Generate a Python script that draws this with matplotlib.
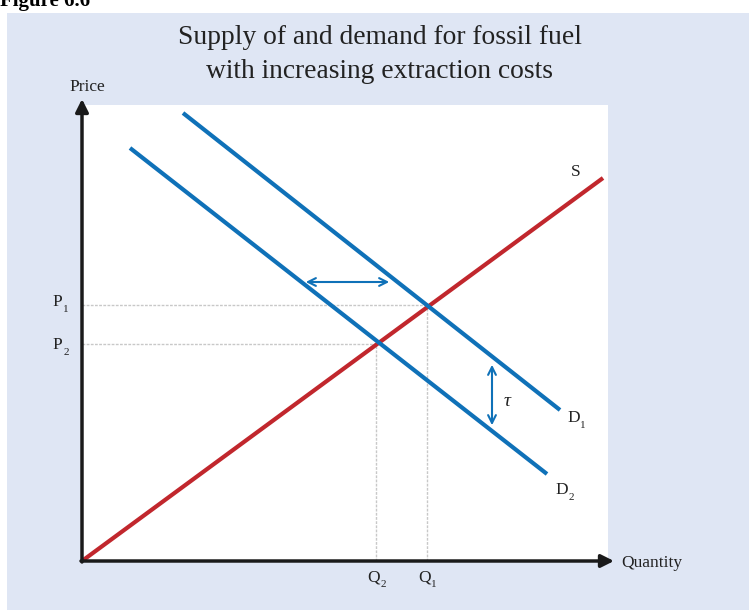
import matplotlib
matplotlib.use("Agg")
import matplotlib.pyplot as plt
from matplotlib.patches import Rectangle

plt.rcParams['font.family'] = ['Liberation Serif', 'DejaVu Serif']
plt.rcParams['mathtext.fontset'] = 'custom'
plt.rcParams['mathtext.rm'] = 'Liberation Serif'
plt.rcParams['mathtext.it'] = 'Liberation Serif:italic'

# line end points (quantity, price) in chart units
supply_x = [0, 521]
supply_y = [0, 383]
d1_x = [101, 478]
d1_y = [448, 151]
d2_x = [48, 465]
d2_y = [413, 87]

# equilibria
q1, p1 = 345, 256
q2, p2 = 294, 217

# shift arrows
shift_x = [221, 310]
shift_y = 279
tax_x = 410
tax_y = [199, 133]

BLUE = '#0f71b8'
RED = '#c1272d'
PANEL = '#dfe6f4'
INK = '#222222'

fig = plt.figure(figsize=(7.49, 6.10), dpi=100)
fig.patches.append(Rectangle((7 / 749, 0), 1, 1 - 13 / 610, transform=fig.transFigure,
                             facecolor=PANEL, edgecolor='none', zorder=-1))
fig.text(0.0, 1 - 6 / 610, 'Figure 6.6', fontsize=15, fontweight='bold', va='baseline')

ax = fig.add_axes([82 / 749, 49 / 610, 526 / 749, 456 / 610])
ax.set_zorder(1)
ax.set_facecolor('white')
ax.set_xlim(0, 526)
ax.set_ylim(0, 456)
for s in ax.spines.values():
    s.set_visible(False)
ax.set_xticks([])
ax.set_yticks([])

# guide lines
guide = dict(color='#c8c8c8', lw=1, ls=(0, (2, 1)))
ax.plot([0, q1], [p1, p1], **guide)
ax.plot([0, q2], [p2, p2], **guide)
ax.plot([q1, q1], [0, p1], **guide)
ax.plot([q2, q2], [0, p2], **guide)

ax.plot(supply_x, supply_y, color=RED, lw=3, solid_capstyle='butt')
ax.plot(d1_x, d1_y, color=BLUE, lw=3, solid_capstyle='butt')
ax.plot(d2_x, d2_y, color=BLUE, lw=3, solid_capstyle='butt')

ax.annotate('', xy=(shift_x[0], shift_y), xytext=(shift_x[1], shift_y),
            arrowprops=dict(arrowstyle='<->', color=BLUE, lw=1.5, mutation_scale=14))
ax.annotate('', xy=(tax_x, tax_y[0]), xytext=(tax_x, tax_y[1]),
            arrowprops=dict(arrowstyle='<->', color=BLUE, lw=1.5, mutation_scale=14))
ax.text(tax_x + 16, 159, r'$\tau$', fontsize=14, ha='center', va='center', color=INK)

# axes with arrows
ax.annotate('', xy=(0, 462), xytext=(0, -1), annotation_clip=False,
            arrowprops=dict(arrowstyle='-|>', color='#1a1a1a', lw=2.5, mutation_scale=19,
                            shrinkA=0, shrinkB=0))
ax.annotate('', xy=(532, 0), xytext=(-1, 0), annotation_clip=False,
            arrowprops=dict(arrowstyle='-|>', color='#1a1a1a', lw=2.5, mutation_scale=19,
                            shrinkA=0, shrinkB=0))

lab = dict(fontsize=12.5, color=INK, clip_on=False)
ax.text(5, 474, 'Price', ha='center', va='center', **lab)
ax.text(539, -2, 'Quantity', ha='left', va='center', **lab)
ax.text(494, 389, 'S', ha='center', va='center', **lab)


def sub_label(x, y, main, sub):
    ax.text(x, y, main, ha='center', va='center', **lab)
    ax.annotate(sub, (x, y), xytext=(4.6, -5.6), textcoords='offset points',
                ha='left', va='center', fontsize=8, color=INK, annotation_clip=False)


sub_label(492, 143, 'D', '1')
sub_label(480, 71, 'D', '2')
sub_label(-25, p1 + 3, 'P', '1')
sub_label(-25, p2 - 1, 'P', '2')
sub_label(q2 - 2, -16, 'Q', '2')
sub_label(q1 - 2, -16, 'Q', '1')

fig.text(380 / 749, 1 - 38 / 610, 'Supply of and demand for fossil fuel', fontsize=19.8,
         ha='center', va='center', color=INK)
fig.text(380 / 749, 1 - 72 / 610, 'with increasing extraction costs', fontsize=19.8,
         ha='center', va='center', color=INK)

fig.savefig('out.png', dpi=100)
